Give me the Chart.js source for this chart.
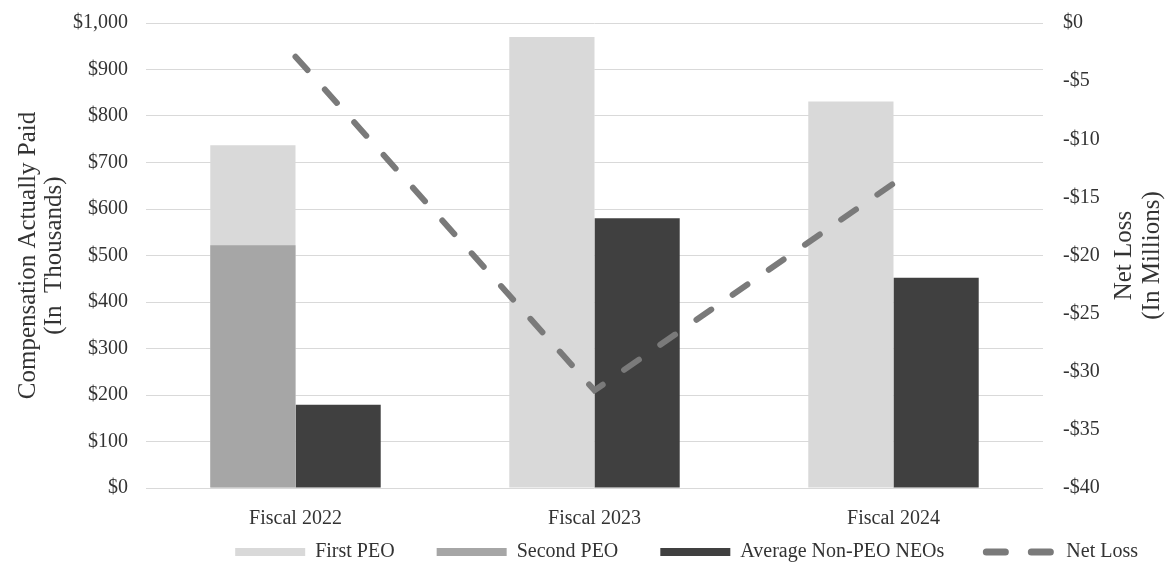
<!DOCTYPE html>
<html>
<head>
<meta charset="utf-8">
<script src="https://cdn.jsdelivr.net/npm/chart.js@4.4.1/dist/chart.umd.min.js"></script>
<style>
  html, body { margin: 0; padding: 0; background: #ffffff; }
  #wrap { width: 1165px; height: 562px; position: relative; }
</style>
</head>
<body>
<div id="wrap"><canvas id="capChart"></canvas></div>
<script>
// Données du graphique
const fiscalYears = ['Fiscal 2022', 'Fiscal 2023', 'Fiscal 2024'];
const firstPeo = [737, 970, 831];       // en milliers de $
const secondPeo = [522, null, null];    // en milliers de $
const avgNonPeo = [179, 580, 452];      // en milliers de $
const netLoss = [-2.9, -31.6, -13.8];   // en millions de $

const leftTicks = [0, 100, 200, 300, 400, 500, 600, 700, 800, 900, 1000];
const rightTicks = [0, -5, -10, -15, -20, -25, -30, -35, -40];
const leftTitle = ['Compensation Actually Paid', '(In  Thousands)'];
const rightTitle = ['Net Loss', '(In Millions)'];

const serif = '"Liberation Serif", "Times New Roman", serif';
const textColor = '#333333';

// Titre de l'axe droit, écrit de bas en haut comme à gauche
const rightTitlePlugin = {
    id: 'rightTitle',
    afterDraw(chart) {
        const c = chart.ctx;
        const area = chart.chartArea;
        c.save();
        c.font = '25px ' + serif;
        c.fillStyle = textColor;
        c.textAlign = 'center';
        c.textBaseline = 'middle';
        c.translate(chart.width - 41, (area.top + area.bottom) / 2);
        c.rotate(-Math.PI / 2);
        rightTitle.forEach((line, i) => c.fillText(line, 0, i * 28));
        c.restore();
    }
};

// La légende garde un grand espacement horizontal, on la remonte un peu
const legendLift = {
    id: 'legendLift',
    afterLayout(chart) {
        chart.legend.top -= 28;
        chart.legend.bottom -= 28;
    }
};

const ctx = document.getElementById('capChart').getContext('2d');
const capChart = new Chart(ctx, {
    type: 'bar',
    data: {
        labels: fiscalYears,
        datasets: [
            {
                label: 'First PEO',
                data: firstPeo,
                backgroundColor: '#d9d9d9',
                stack: 'peo',
                order: 2,
                yAxisID: 'y',
                pointStyle: 'rect',
                borderWidth: 0
            },
            {
                label: 'Second PEO',
                data: secondPeo,
                backgroundColor: '#a6a6a6',
                stack: 'peo',
                order: 1,
                yAxisID: 'y',
                pointStyle: 'rect',
                borderWidth: 0
            },
            {
                label: 'Average Non-PEO NEOs',
                data: avgNonPeo,
                backgroundColor: '#404040',
                stack: 'neo',
                order: 3,
                yAxisID: 'y',
                pointStyle: 'rect',
                borderWidth: 0
            },
            {
                type: 'line',
                label: 'Net Loss',
                data: netLoss,
                borderColor: '#7a7a7a',
                backgroundColor: '#7a7a7a',
                borderWidth: 6,
                borderDash: [18, 26],
                borderCapStyle: 'round',
                pointRadius: 0,
                pointStyle: 'line',
                tension: 0,
                fill: false,
                order: 0,
                yAxisID: 'y1'
            }
        ]
    },
    options: {
        responsive: true,
        maintainAspectRatio: false,
        animation: { duration: 0 },
        layout: {
            padding: { top: 23, right: -15, bottom: -38, left: 0 }
        },
        datasets: {
            bar: {
                categoryPercentage: 0.57,
                barPercentage: 1.0
            }
        },
        scales: {
            x: {
                afterFit: (scale) => { scale.height = 40; },
                grid: { display: false, drawTicks: false },
                border: { display: false },
                ticks: {
                    color: textColor,
                    font: { family: serif, size: 20 },
                    padding: 19
                }
            },
            y: {
                position: 'left',
                stacked: false,
                min: 0,
                max: 1000,
                afterBuildTicks: (scale) => { scale.ticks = leftTicks.map(v => ({ value: v })); },
                afterFit: (scale) => {
                    scale.width = 146;
                    scale.paddingTop = 0;
                    scale.paddingBottom = 0;
                },
                grid: { color: '#d9d9d9', lineWidth: 1, drawTicks: false },
                border: { display: false },
                ticks: {
                    color: textColor,
                    padding: 18,
                    font: { family: serif, size: 20 },
                    callback: (v) => '$' + Number(v).toLocaleString('en-US')
                },
                title: {
                    display: true,
                    text: leftTitle,
                    color: textColor,
                    font: { family: serif, size: 25, lineHeight: 1.05 },
                    padding: { top: 15, bottom: 0 }
                }
            },
            y1: {
                position: 'right',
                stacked: false,
                min: -40,
                max: 0,
                afterBuildTicks: (scale) => { scale.ticks = rightTicks.map(v => ({ value: v })); },
                afterFit: (scale) => {
                    scale.width = 137;
                    scale.paddingTop = 0;
                    scale.paddingBottom = 0;
                },
                grid: { display: false, drawTicks: false },
                border: { display: false },
                ticks: {
                    color: textColor,
                    padding: 20,
                    font: { family: serif, size: 20 },
                    callback: (v) => (v < 0 ? '-$' + Math.abs(v) : '$' + v)
                }
            }
        },
        plugins: {
            legend: {
                display: true,
                position: 'bottom',
                align: 'end',
                labels: {
                    usePointStyle: true,
                    pointStyleWidth: 70,
                    boxHeight: 8,
                    padding: 42,
                    color: textColor,
                    font: { family: serif, size: 20 },
                    sort: (a, b) => a.datasetIndex - b.datasetIndex,
                    generateLabels: (chart) => {
                        const items = Chart.defaults.plugins.legend.labels.generateLabels(chart);
                        items.forEach((it) => {
                            if (it.text === 'Net Loss') {
                                it.lineDash = [19, 26];
                                it.lineCap = 'round';
                                it.lineWidth = 7;
                                it.strokeStyle = '#7a7a7a';
                            }
                        });
                        return items;
                    }
                }
            },
            tooltip: { enabled: false }
        }
    },
    plugins: [rightTitlePlugin, legendLift]
});
</script>
</body>
</html>
